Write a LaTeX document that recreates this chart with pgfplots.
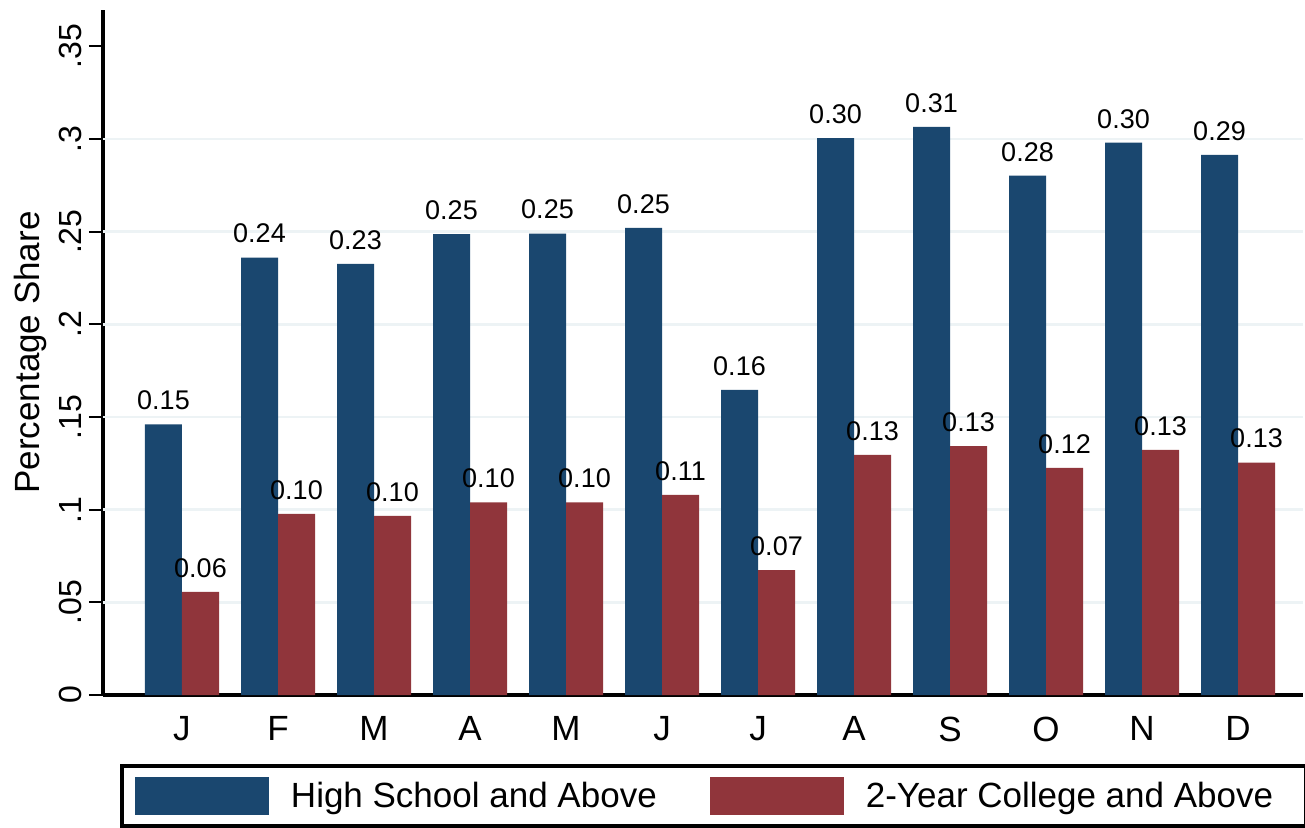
\documentclass[border=0pt]{standalone}
\usepackage{fontspec}
\setmainfont{Liberation Sans}
\usepackage{pgfplots}
\usepackage{pgfplotstable}
\pgfplotsset{compat=1.18}
\definecolor{stnavy}{RGB}{26,71,111}
\definecolor{stmaroon}{RGB}{144,53,59}
\definecolor{gridc}{RGB}{237,243,245}

\pgfplotstableread{
x hs col
0 0.1460 0.0556
1 0.2360 0.0977
2 0.2326 0.0966
3 0.2487 0.1040
4 0.2490 0.1040
5 0.2520 0.1080
6 0.1646 0.0674
7 0.3005 0.1295
8 0.3066 0.1343
9 0.2802 0.1225
10 0.2980 0.1322
11 0.2914 0.1254
}\datatable

\begin{document}
\begin{tikzpicture}
\begin{axis}[
  name=ax,
  scale only axis,
  width=600pt, height=342.5pt,
  xmin=-0.8229, xmax=11.677,
  ymin=0, ymax=0.3696,
  axis x line*=bottom, axis y line*=left,
  axis line style={line width=1.6pt, -},
  /pgf/number format/assume math mode=true,
  ybar=0pt, bar width=18.5pt,
  xtick=data, xticklabels={J,F,M,A,M,J,J,A,S,O,N,D},
  ytick={0,0.05,0.1,0.15,0.2,0.25,0.3,0.35},
  yticklabels={0,.05,.1,.15,.2,.25,.3,.35},
  tick align=outside, major tick length=7pt,
  xtick style={draw=none},
  ytick style={line width=1pt, black},
  extra y ticks={0.05,0.1,0.15,0.2,0.25,0.3},
  extra y tick labels={},
  extra y tick style={grid=major, major grid style={gridc, line width=1.2pt}, ytick style={draw=none}},
  xticklabel style={font=\fontsize{17.5}{21}\selectfont, anchor=north, inner sep=0pt, yshift=-3.75pt},
  yticklabel style={font=\fontsize{16}{19}\selectfont, rotate=90, anchor=south},
  ylabel={Percentage Share},
  ylabel style={at={(axis description cs:-0.0608,0.5)}, anchor=center, font=\fontsize{17.5}{21}\selectfont},
  nodes near coords={\pgfmathprintnumber[fixed,fixed zerofill,precision=2]{\pgfplotspointmeta}},
  every node near coord/.append style={font=\fontsize{13.5}{16}\selectfont, anchor=south, inner sep=0pt, yshift=7pt, black},
  legend columns=2,
  legend image code/.code={\fill[#1] (0pt,-9.5pt) rectangle (67pt,9.5pt);},
  legend style={
    at={(axis description cs:0,0)}, anchor=north west, xshift=8.5pt, yshift=-34.5pt,
    draw=black, line width=2pt, fill=white,
    inner xsep=6.5pt, inner ysep=5.5pt,
    font=\fontsize{17.5}{21}\selectfont,
    nodes={inner sep=0pt},
    column sep=11pt,
    /tikz/every even column/.append style={column sep=26.5pt},
  },
]
\addplot[fill=stnavy, draw=none] table[x=x, y=hs] {\datatable};
\addplot[fill=stmaroon, draw=none] table[x=x, y=col] {\datatable};
\legend{High School and Above, \makebox[213.5pt][l]{2-Year College and Above}}
\end{axis}
\pgfresetboundingbox
\path[use as bounding box] ([xshift=-51.5pt,yshift=-66pt]ax.south west) rectangle ([xshift=601pt,yshift=5pt]ax.north west);
\end{tikzpicture}
\end{document}
